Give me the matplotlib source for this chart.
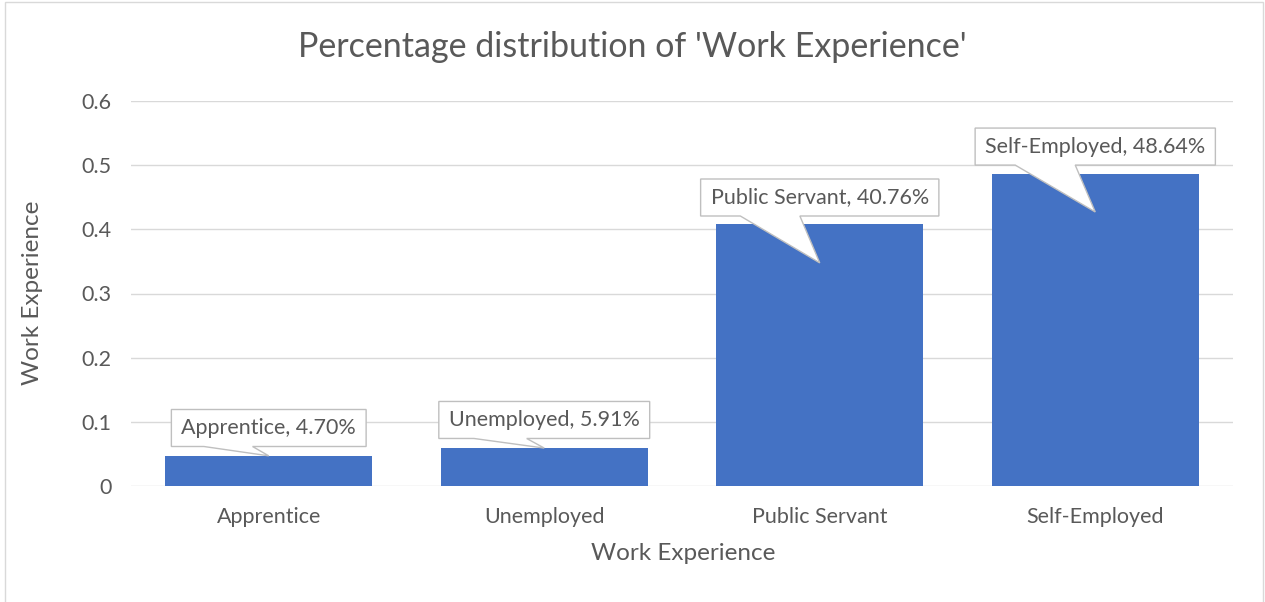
import matplotlib
matplotlib.use('Agg')
import matplotlib.pyplot as plt
from matplotlib.patches import Polygon, Rectangle

categories = ['Apprentice', 'Unemployed', 'Public Servant', 'Self-Employed']
shares = [0.0470, 0.0591, 0.4076, 0.4864]
y_ticks = [0, 0.1, 0.2, 0.3, 0.4, 0.5, 0.6]
y_tick_labels = ['0', '0.1', '0.2', '0.3', '0.4', '0.5', '0.6']

# callout layout: box centre height (data units) and where the pointer ends (fraction of bar)
box_mid = [0.0904, 0.1029, 0.4496, 0.529]
tip_frac = [1.0, 1.0, 0.853, 0.878]

plt.rcParams['font.family'] = ['Lato', 'DejaVu Sans']
txt_color = '#595959'
bar_color = '#4472C4'

fig = plt.figure(figsize=(12.65, 6.02), dpi=100)
W, H = 1265, 602
ax = fig.add_axes([131 / W, 1 - 486 / H, (1233 - 131) / W, (486 - 101) / H])

# outer chart border
fig.patches.append(Rectangle((5 / W, -0.05), (1263 - 5) / W, 1.05 - 2 / H,
                             transform=fig.transFigure, fill=False,
                             ec='#D9D9D9', lw=1))

x = list(range(len(categories)))
ax.bar(x, shares, width=0.75, color=bar_color, zorder=3)
ax.set_xlim(-0.5, len(categories) - 0.5)
ax.set_ylim(0, 0.6)
ax.set_yticks(y_ticks)
ax.set_yticklabels(y_tick_labels)
ax.set_xticks(x)
ax.set_xticklabels(categories)
ax.tick_params(length=0, labelsize=15.5, colors=txt_color)
ax.tick_params(axis='y', pad=14)
ax.tick_params(axis='x', pad=15)
for s in ax.spines.values():
    s.set_visible(False)
ax.grid(axis='y', color='#D9D9D9', lw=1, zorder=0)
ax.set_axisbelow(True)

fig.text(0.5, 1 - 47 / H, "Percentage distribution of 'Work Experience'",
         ha='center', va='center', fontsize=24.5, color=txt_color)
fig.text(33 / W, 1 - 293 / H, 'Work Experience', rotation=90,
         ha='center', va='center', fontsize=17.5, color=txt_color)
fig.text(683 / W, 1 - 553 / H, 'Work Experience',
         ha='center', va='center', fontsize=17.5, color=txt_color)

# callouts
box_h = 37 / ((486 - 101) / 0.6)
fig.canvas.draw()
renderer = fig.canvas.get_renderer()
px_per_x = ax.transData.transform((1, 0))[0] - ax.transData.transform((0, 0))[0]
for i, (cat, v) in enumerate(zip(categories, shares)):
    label = f'{cat}, {v * 100:.2f}%'
    t = ax.text(i, box_mid[i], label, ha='center', va='center',
                fontsize=15.5, color=txt_color, zorder=6, clip_on=False)
    tw = t.get_window_extent(renderer).width
    w = (tw + 20) / px_per_x
    x0, x1 = i - w / 2, i + w / 2
    y0, y1 = box_mid[i] - box_h / 2, box_mid[i] + box_h / 2
    b1, b2 = x0 + w / 6, x0 + 5 * w / 12
    pts = [(x0, y0), (b1, y0), (i, v * tip_frac[i]), (b2, y0),
           (x1, y0), (x1, y1), (x0, y1)]
    ax.add_patch(Polygon(pts, closed=True, fc='white', ec='#BFBFBF',
                         lw=1, zorder=5, clip_on=False))

fig.savefig('out.png', dpi=100)
